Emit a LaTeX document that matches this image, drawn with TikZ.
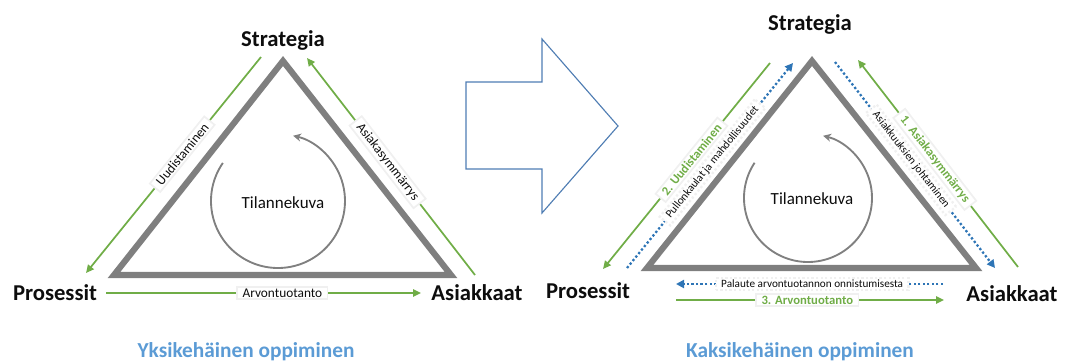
\documentclass[tikz,border=0pt]{standalone}
\usepackage{fontspec}
\setmainfont{Carlito}
\usetikzlibrary{arrows.meta,calc}
\definecolor{grn}{HTML}{70AD47}
\definecolor{blu}{HTML}{2E75B6}
\definecolor{trigray}{HTML}{7F7F7F}
\definecolor{cgray}{HTML}{808080}
\definecolor{ttl}{HTML}{5B9BD5}
\definecolor{boxblue}{HTML}{4F7DB3}
\definecolor{txt}{HTML}{0D0D0D}
\begin{document}
\begin{tikzpicture}[x=0.75pt,y=-0.75pt,
  tri/.style={draw=trigray,line width=4.6pt,line join=miter},
  garrow/.style={draw=grn,line width=1.3pt,-{Triangle[length=6pt,width=5.5pt]}},
  barrow/.style={draw=blu,line width=1.7pt,dash pattern=on 1.7pt off 1.7pt,-{Triangle[length=6pt,width=6pt]}},
  circarrow/.style={draw=cgray,line width=1.4pt,-{Stealth[length=6pt,width=6pt]}},
  lbl/.style={fill=white,draw=black!6,inner xsep=4pt,inner ysep=1.5pt,text=txt,font=\fontsize{10}{12}\selectfont},
  slbl/.style={lbl,font=\fontsize{8.4}{10}\selectfont},
  glbl/.style={lbl,text=grn,font=\fontsize{9.5}{11}\selectfont\bfseries},
  corner/.style={text=txt,font=\fontsize{17}{20}\selectfont\bfseries,inner sep=0pt,anchor=base},
  center/.style={text=txt,font=\fontsize{12.75}{15}\selectfont,inner sep=0pt,anchor=base},
  title/.style={text=ttl,font=\fontsize{16}{19}\selectfont\bfseries,inner sep=0pt,anchor=base},
  blockarrow/.style={draw=boxblue,line width=0.85pt,line join=miter}
]
\useasboundingbox (0,0) rectangle (1067,361);

% ---------- left diagram ----------
\coordinate (LA) at (283,61);
\coordinate (LB) at (114,275);
\coordinate (LC) at (451,275);
\draw[tri] (LA) -- (LB) -- (LC) -- cycle;

\node[corner] (lstrat) at (283,46) {Strategia};
\node[corner] (lpros) at (55,300) {Prosessit};
\node[corner] (lasi) at (477,300) {Asiakkaat};
\node[center] (ltil) at (283,208) {Tilannekuva};

\coordinate (Lc) at (278,201);
\draw[circarrow] ($(Lc)+(214.6:67)$) arc[start angle=214.6,end angle=-77,radius=67];

\coordinate (L1s) at (261,57);  \coordinate (L1e) at (86,273);
\coordinate (L2s) at (475,275); \coordinate (L2e) at (307,58);
\coordinate (L3s) at (106,293); \coordinate (L3e) at (421,293);
\draw[garrow] (L1s) -- node[lbl,sloped,pos=0.45] (lu) {Uudistaminen} (L1e);
\draw[garrow] (L2s) -- node[lbl,sloped,pos=0.52] (la) {Asiakasymmärrys} (L2e);
\draw[garrow] (L3s) -- node[lbl,pos=0.56] (lv) {Arvontuotanto} (L3e);

\node[title] (ltitle) at (246,357) {Yksikehäinen oppiminen};

% ---------- block arrow ----------
\draw[blockarrow] (466,82) -- (542,82) -- (542,39) -- (618,126) -- (542,213) -- (542,169) -- (466,169) -- cycle;

% ---------- right diagram ----------
\coordinate (RA) at (812,61);
\coordinate (RB) at (647,268);
\coordinate (RC) at (976,268);
\draw[tri] (RA) -- (RB) -- (RC) -- cycle;

\node[corner] (rstrat) at (810,30) {Strategia};
\node[corner] (rpros) at (588,298) {Prosessit};
\node[corner] (rasi) at (1012,301) {Asiakkaat};
\node[center] (rtil) at (812,204) {Tilannekuva};

\coordinate (Rc) at (808,198);
\draw[circarrow] ($(Rc)+(213.4:64)$) arc[start angle=213.4,end angle=-76.4,radius=64];

\coordinate (R1s) at (770,63);  \coordinate (R1e) at (603,269);
\coordinate (R2s) at (627,268); \coordinate (R2e) at (793,63);
\coordinate (R3s) at (835,62);  \coordinate (R3e) at (995,268);
\coordinate (R4s) at (1018,267);\coordinate (R4e) at (858,60);
\coordinate (R5s) at (943,284); \coordinate (R5e) at (676,284);
\coordinate (R6s) at (676,300); \coordinate (R6e) at (944,300);

\draw[garrow] (R1s) -- node[glbl,sloped,pos=0.47] (ru) {2. Uudistaminen} (R1e);
\draw[barrow] (R2s) -- node[slbl,sloped,pos=0.515] (rp) {Pullonkaulat ja mahdollisuudet} (R2e);
\draw[barrow] (R3s) -- node[slbl,sloped,pos=0.475] (rj) {Asiakkuuksien johtaminen} (R3e);
\draw[garrow] (R4s) -- node[glbl,sloped,pos=0.52] (ra) {1. Asiakasymmärrys} (R4e);
\draw[barrow] (R5s) -- node[slbl,pos=0.49] (rf) {Palaute arvontuotannon onnistumisesta} (R5e);
\draw[garrow] (R6s) -- node[glbl,pos=0.49] (rv) {3. Arvontuotanto} (R6e);

\node[title] (rtitle) at (800,357) {Kaksikehäinen oppiminen};
\end{tikzpicture}
\end{document}
